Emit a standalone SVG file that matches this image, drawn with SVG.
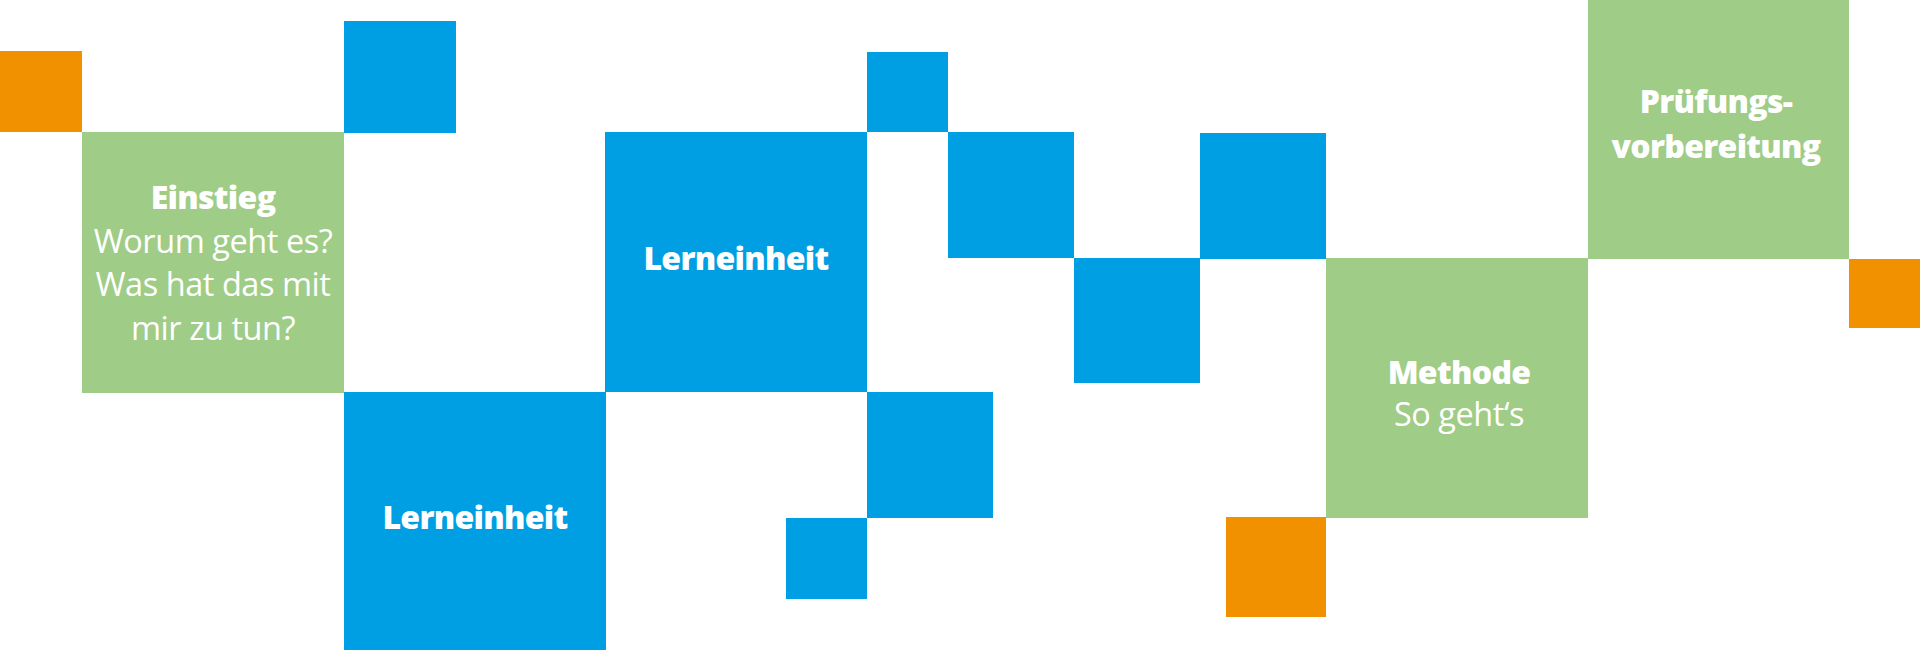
<svg xmlns="http://www.w3.org/2000/svg" width="1920" height="650" viewBox="0 0 1920 650">
<style>
.b{fill:#009FE3}.g{fill:#9FCC86}.o{fill:#F29100}
text{font-family:"Open Sans","Noto Sans","Liberation Sans",sans-serif;fill:#fff;text-anchor:middle;font-size:32.5px;letter-spacing:-0.45px}
.t{font-weight:800;font-size:32px;letter-spacing:-0.7px}
</style>
<rect width="1920" height="650" fill="#fff"/>
<g id="deco">
<rect class="o" x="0" y="51" width="82" height="81"/>
<rect class="b" x="344" y="21" width="112" height="112"/>
<rect class="b" x="867" y="52" width="81" height="80"/>
<rect class="b" x="948" y="132" width="126" height="126"/>
<rect class="b" x="1074" y="258" width="126" height="125"/>
<rect class="b" x="1200" y="133" width="126" height="126"/>
<rect class="b" x="867" y="392" width="126" height="126"/>
<rect class="b" x="786" y="518" width="81" height="81"/>
<rect class="o" x="1226" y="517" width="100" height="100"/>
<rect class="o" x="1849" y="259" width="71" height="69"/>
</g>
<g id="einstieg">
<rect class="g" x="82" y="132" width="262" height="261"/>
<text x="213" y="209" class="t">Einstieg</text>
<text x="213" y="253">Worum geht es?</text>
<text x="213" y="296">Was hat das mit</text>
<text x="213" y="340">mir zu tun?</text>
</g>
<g id="lerneinheit1">
<rect class="b" x="344" y="392" width="262" height="258"/>
<text x="475" y="529" class="t">Lerneinheit</text>
</g>
<g id="lerneinheit2">
<rect class="b" x="605" y="132" width="262" height="260"/>
<text x="736" y="270" class="t">Lerneinheit</text>
</g>
<g id="methode">
<rect class="g" x="1326" y="258" width="262" height="260"/>
<text x="1459" y="384" class="t">Methode</text>
<text x="1459" y="426">So geht‘s</text>
</g>
<g id="pruefung">
<rect class="g" x="1588" y="0" width="261" height="259"/>
<text x="1716" y="113" class="t">Prüfungs-</text>
<text x="1716" y="158" class="t">vorbereitung</text>
</g>
<g id="connectors"/>
</svg>
